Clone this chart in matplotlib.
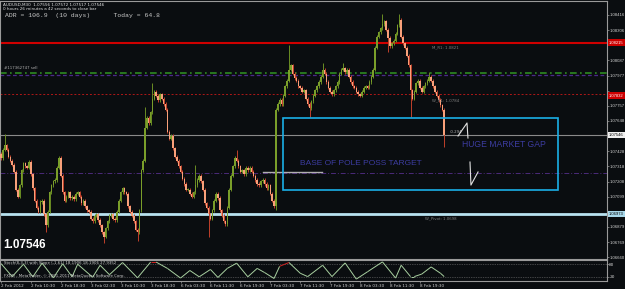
import matplotlib
matplotlib.use("Agg")
import matplotlib.pyplot as plt
import matplotlib.transforms as mtransforms
from matplotlib.collections import LineCollection
from matplotlib.patches import Rectangle
import numpy as np

BG = "#0a0d10"

# AUDUSD M30 closes, one per bar
closes = [
    1.0738, 1.0744, 1.0747, 1.0744, 1.0739, 1.0736, 1.0733, 1.0728, 1.0715, 1.0710,
    1.0718, 1.0729, 1.0734, 1.0732, 1.0731, 1.0735, 1.0726, 1.0716, 1.0707, 1.0702,
    1.0699, 1.0706, 1.0707, 1.0697, 1.0689, 1.0699, 1.0713, 1.0718, 1.0721, 1.0722,
    1.0731, 1.0738, 1.0725, 1.0713, 1.0707, 1.0710, 1.0713, 1.0709, 1.0710, 1.0708,
    1.0712, 1.0713, 1.0710, 1.0705, 1.0707, 1.0703, 1.0700, 1.0699, 1.0694, 1.0692,
    1.0696, 1.0697, 1.0693, 1.0689, 1.0684, 1.0681, 1.0687, 1.0692, 1.0696, 1.0697,
    1.0694, 1.0693, 1.0699, 1.0707, 1.0713, 1.0716, 1.0713, 1.0712, 1.0703, 1.0699,
    1.0696, 1.0692, 1.0686, 1.0684, 1.0700, 1.0729, 1.0736, 1.0760, 1.0767, 1.0763,
    1.0771, 1.0781, 1.0786, 1.0783, 1.0780, 1.0784, 1.0781, 1.0777, 1.0773, 1.0757,
    1.0752, 1.0754, 1.0745, 1.0739, 1.0736, 1.0732, 1.0728, 1.0723, 1.0719, 1.0715,
    1.0715, 1.0712, 1.0710, 1.0713, 1.0718, 1.0722, 1.0725, 1.0721, 1.0715, 1.0705,
    1.0702, 1.0697, 1.0694, 1.0700, 1.0707, 1.0712, 1.0709, 1.0700, 1.0696, 1.0692,
    1.0690, 1.0702, 1.0715, 1.0725, 1.0732, 1.0738, 1.0736, 1.0732, 1.0728, 1.0729,
    1.0726, 1.0731, 1.0729, 1.0731, 1.0728, 1.0725, 1.0722, 1.0719, 1.0718, 1.0721,
    1.0722, 1.0719, 1.0716, 1.0718, 1.0712, 1.0707, 1.0703, 1.0773, 1.0777, 1.0780,
    1.0777, 1.0783, 1.0790, 1.0794, 1.0802, 1.0805, 1.0799, 1.0796, 1.0794, 1.0790,
    1.0789, 1.0786, 1.0787, 1.0781, 1.0777, 1.0774, 1.0779, 1.0783, 1.0787, 1.0790,
    1.0793, 1.0797, 1.0802, 1.0799, 1.0793, 1.0789, 1.0786, 1.0784, 1.0787, 1.0790,
    1.0793, 1.0799, 1.0802, 1.0803, 1.0800, 1.0802, 1.0797, 1.0793, 1.0790, 1.0789,
    1.0786, 1.0784, 1.0783, 1.0786, 1.0789, 1.0790, 1.0789, 1.0793, 1.0797, 1.0802,
    1.0818, 1.0826, 1.0829, 1.0832, 1.0835, 1.0837, 1.0831, 1.0825, 1.0819, 1.0821,
    1.0823, 1.0828, 1.0834, 1.0838, 1.0826, 1.0821, 1.0818, 1.0812, 1.0805, 1.0787,
    1.0781, 1.0786, 1.0792, 1.0794, 1.0789, 1.0786, 1.0790, 1.0792, 1.0794, 1.0797,
    1.0794, 1.0790, 1.0786, 1.0783, 1.0780, 1.0776, 1.0773, 1.07546,
]
first_open = 1.0741
spike_highs = {2: 1.0755, 77: 1.0775, 81: 1.0792, 104: 1.0733, 126: 1.0744,
               154: 1.0820, 172: 1.0807, 183: 1.0807, 204: 1.0842, 213: 1.0842,
               229: 1.0800}
spike_lows = {24: 1.0684, 55: 1.0676, 73: 1.0678, 111: 1.0681, 147: 1.0700,
              165: 1.0768, 207: 1.0815, 219: 1.0768, 237: 1.0746}

# right-axis labels; the ones hidden under the coloured boxes are left blank
price_ticks = [1.08416, 1.08306, 1.08196, 1.08087, 1.07977, 1.07867, 1.07757,
               1.07648, 1.07538, 1.07428, 1.07318, 1.07208, 1.07099, 1.06989,
               1.06879, 1.06769, 1.06660]
hidden_ticks = [1.08196, 1.07867, 1.07538, 1.06989]

time_labels = ["2 Feb 2012", "2 Feb 10:30", "2 Feb 18:30", "3 Feb 02:30",
               "3 Feb 10:30", "3 Feb 18:30", "6 Feb 03:30", "6 Feb 11:30",
               "6 Feb 19:30", "7 Feb 03:30", "7 Feb 11:30", "7 Feb 19:30",
               "8 Feb 03:30", "8 Feb 11:30", "8 Feb 19:30"]

# stochastic, read at turning points
stoch_bars = [0, 6, 12, 17, 22, 28, 33, 38, 41, 49, 53, 58, 65, 73, 80, 83, 89,
              96, 101, 106, 112, 116, 121, 126, 132, 137, 141, 146, 149, 154,
              160, 164, 172, 177, 184, 190, 196, 204, 211, 214, 219, 221, 225,
              230, 235, 237]
stoch_vals = [83, 21, 80, 20, 85, 15, 82, 20, 80, 18, 75, 30, 88, 15, 90, 90, 60,
              14, 50, 20, 55, 17, 60, 85, 20, 60, 40, 12, 70, 88,
              37, 21, 75, 21, 86, 9, 44, 91, 14, 75, 21, 21, 33,
              67, 37, 21]

# levels / lines: (price, colour, style, width)
levels = [
    (1.08215, "#d00000", "-", 1.5),
    (1.07996, "#2e8b22", (0, (4, 2, 1, 2)), 1.2),
    (1.07981, "#4b2a8a", (0, (3, 2)), 0.9),
    (1.07843, "#b01818", (0, (2, 2)), 0.7),
    (1.07546, "#8a8a8a", "-", 0.8),
    (1.07270, "#4b2a7a", (0, (5, 2, 1, 2)), 0.7),
    (1.06973, "#b8e2f0", "-", 2.0),
]

fig = plt.figure(figsize=(6.25, 2.89), dpi=100, facecolor=BG)
W, H = 625.0, 289.0
ax = fig.add_axes([0, 30 / H, 607 / W, 258 / H], facecolor=BG)

n = len(closes)
idx = np.arange(n)
c = np.array(closes)
o = np.array([first_open] + closes[:-1])
hi = np.maximum(o, c) + 0.00012
lo = np.minimum(o, c) - 0.00012
for k, v in spike_highs.items():
    hi[k] = max(hi[k], v)
for k, v in spike_lows.items():
    lo[k] = min(lo[k], v)

bull = c >= o
wick_col = np.where(bull, "#6b8e23", "#c0402a")
body_col = np.where(bull, "#7a9e2a", "#f8a07a")

for lv in levels:
    ax.axhline(lv[0], color=lv[1], ls=lv[2], lw=lv[3], zorder=1)

ax.vlines(idx, lo, hi, colors=wick_col, lw=0.7, zorder=2)
body_h = np.maximum(np.abs(c - o), 0.00004)
ax.bar(idx, body_h, bottom=np.minimum(o, c), width=0.8, color=body_col,
       edgecolor="none", zorder=3)

xmin, xmax = -0.535, 324.06
ax.set_xlim(xmin, xmax)
ax.set_ylim(1.06647, 1.085175)

# drawn objects
ax.plot([140, 171.7], [1.0728, 1.0728], color="#b0b0b0", lw=1.0, zorder=2)
ax.add_patch(Rectangle((150.8, 1.0715), 147.1, 0.0052, fill=False,
                       ec="#1ab0e8", lw=1.2, zorder=4))
ax.plot([244.4, 249.2, 249.7], [1.07539, 1.07633, 1.07524], color="#e0e0e0",
        lw=0.8, zorder=5)
ax.plot([250.8, 251.3, 255.1], [1.07350, 1.07183, 1.07278], color="#e0e0e0",
        lw=0.8, zorder=5)
ax.text(160, 1.0734, "BASE OF POLE POSS TARGET", color="#3c3ca0",
        fontsize=6, family="Liberation Sans", va="center", zorder=5)
ax.text(246.5, 1.0748, "HUGE MARKET GAP", color="#3c3ca0",
        fontsize=6.2, family="Liberation Sans", va="center", zorder=5)
ax.text(240, 1.0757, "-0.294", color="#b0b0b0", fontsize=2.8, va="center")
ax.text(230.5, 1.0818, "M_R1: 1.0821", color="#808080", fontsize=2.8, va="center")
ax.text(230.5, 1.0780, "W_R1: 1.0784", color="#808080", fontsize=2.8, va="center")
ax.text(227, 1.0694, "W_Pivot: 1.0698", color="#808080", fontsize=2.8, va="center")
ax.text(1.5, 1.08015, "#117362747 sell", color="#b0b0b0", fontsize=2.8, va="bottom")
ax.text(1.0, 1.0675, "1.07546", color="white", fontsize=8.5, weight="bold",
        family="Liberation Sans", va="center")

for s in ax.spines.values():
    s.set_color("#9a9a9a")
    s.set_linewidth(0.8)
ax.set_xticks([])
ax.yaxis.tick_right()
ax.set_yticks(price_ticks)
ax.set_yticklabels(["" if p in hidden_ticks else "%.5f" % p for p in price_ticks],
                   family="Liberation Sans")
ax.tick_params(axis="y", direction="out", length=1.2, width=0.5, color="#9a9a9a",
               labelsize=3.1, labelcolor="#d0d0d0", pad=0.4)

tr = mtransforms.blended_transform_factory(ax.transAxes, ax.transData)
boxes = [(1.08215, "#cc0000", "white"), (1.07832, "#cc0000", "white"),
         (1.07546, "#f0f0f0", "black"), (1.06973, "#a8d8ea", "black")]
for p, fc, tc in boxes:
    ax.text(1.003, p, "%.5f" % p, transform=tr, color=tc, fontsize=3.0,
            family="Liberation Sans", va="center", ha="left", zorder=6,
            bbox=dict(boxstyle="square,pad=0.3", fc=fc, ec="none"))

# header texts
fig.text(3 / W, 1 - 5 / H, "AUDUSD,M30  1.07556 1.07572 1.07517 1.07546",
         color="#e0e0e0", fontsize=3.0, va="center")
fig.text(3 / W, 1 - 9.5 / H, "0 hours 26 minutes a 42 seconds to close bar",
         color="#e0e0e0", fontsize=3.0, va="center")
fig.text(5 / W, 1 - 15 / H, "ADR = 106.9  (10 days)      Today = 64.8",
         color="#c8c8c8", fontsize=4.6, family="Liberation Mono", va="center")

# stochastic pane
ax2 = fig.add_axes([0, 8 / H, 607 / W, 21 / H], facecolor=BG)
ax2.set_xlim(xmin, xmax)
ax2.set_ylim(0, 100)
for lvl in (80, 20):
    ax2.axhline(lvl, color="#7a7a7a", ls=(0, (1, 1.5)), lw=0.5)
pts = np.column_stack([stoch_bars, stoch_vals])
segs = np.stack([pts[:-1], pts[1:]], axis=1)
seg_cols = ["#d02020" if (a[1] >= 65 and b[1] >= 65) else "#a8d0a0" for a, b in segs]
ax2.add_collection(LineCollection(segs, colors=seg_cols, lw=0.7))
ax2.text(1.5, 86, "Stoch(8,3,3) with Slope (-1.61) 18.1906 18.1906 27.9352",
         color="#d0d0d0", fontsize=2.8, va="center")
ax2.text(1.5, 22, "FXDD - MetaTrader, \u00a9 2001-2011 MetaQuotes Software Corp.",
         color="#d0d0d0", fontsize=2.8, va="center")
for s in ax2.spines.values():
    s.set_color("#9a9a9a")
    s.set_linewidth(0.8)
ax2.yaxis.tick_right()
ax2.set_yticks([80, 20])
ax2.set_yticklabels(["80", "20"])
ax2.tick_params(axis="y", direction="out", length=1.2, width=0.5, color="#9a9a9a",
                labelsize=3.1, labelcolor="#d0d0d0", pad=0.4)
ax2.set_xticks(np.arange(len(time_labels)) * 16)
ax2.set_xticklabels(time_labels, ha="left")
ax2.tick_params(axis="x", direction="out", length=1.5, width=0.5, color="#9a9a9a",
                labelsize=3.0, labelcolor="#d0d0d0", pad=0.5)

fig.savefig("out.png", dpi=100, facecolor=BG)
